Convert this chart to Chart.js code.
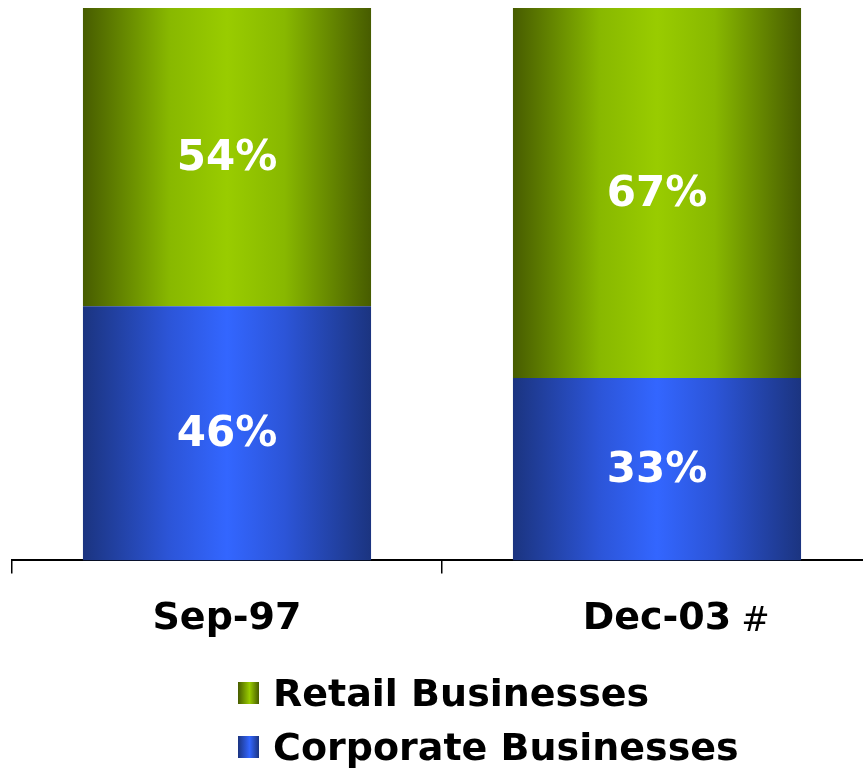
<!DOCTYPE html>
<html>
<head>
<meta charset="utf-8">
<script src="https://cdn.jsdelivr.net/npm/chart.js@4.4.0/dist/chart.umd.min.js"></script>
<style>
  html, body { margin: 0; padding: 0; background: #fff; overflow: hidden; }
  #wrap { position: relative; width: 863px; height: 768px; overflow: hidden; }
  #box { position: absolute; left: 0; top: 0; width: 880px; height: 681px; }
  #legend { position: absolute; left: 238px; top: 666px; font-family: "DejaVu Sans", Verdana, sans-serif; font-weight: bold; font-size: 38px; color: #000; }
  .row { display: flex; align-items: center; height: 54px; }
  .sw { width: 21px; height: 22px; margin-right: 14px; }
</style>
</head>
<body>
<div id="wrap">
  <div id="box"><canvas id="chart"></canvas></div>
  <div id="legend"></div>
</div>
<script>
// values
const periods = ['Sep-97', 'Dec-03'];
const periodNotes = ['', '#'];
const corporateShare = [46, 33];
const retailShare = [54, 67];

const greenStops = ['#475c00', '#88b800', '#99cc00'];
const blueStops = ['#1b3480', '#2c55d8', '#3366ff'];

const barPct = 0.67;

// horizontal gradient across each bar: dark edges, bright middle
function barGradient(stops) {
    return function(ctx) {
        const chart = ctx.chart;
        const xs = chart.scales.x;
        if (!chart.chartArea || !xs || ctx.dataIndex === undefined) return stops[2];
        const cx = xs.getPixelForValue(ctx.dataIndex);
        const w = (xs.width / periods.length) * barPct;
        const g = chart.ctx.createLinearGradient(cx - w / 2, 0, cx + w / 2, 0);
        g.addColorStop(0, stops[0]);
        g.addColorStop(0.3, stops[1]);
        g.addColorStop(0.5, stops[2]);
        g.addColorStop(0.7, stops[1]);
        g.addColorStop(1, stops[0]);
        return g;
    };
}

// percent labels in the middle of each segment, plus the "#" note
const labelPlugin = {
    id: 'segLabels',
    afterDatasetsDraw(chart) {
        const c = chart.ctx;
        c.save();
        c.fillStyle = '#fff';
        c.font = 'bold 42px "DejaVu Sans"';
        c.textAlign = 'center';
        c.textBaseline = 'middle';
        chart.data.datasets.forEach((ds, i) => {
            chart.getDatasetMeta(i).data.forEach((bar, j) => {
                c.fillText(ds.data[j] + '%', bar.x, (bar.y + bar.base) / 2 + 2);
            });
        });
        // small note mark after a tick label
        const xs = chart.scales.x;
        c.fillStyle = '#000';
        c.textAlign = 'left';
        c.textBaseline = 'alphabetic';
        periodNotes.forEach((note, j) => {
            if (!note) return;
            c.font = 'bold 38px "DejaVu Sans"';
            const half = c.measureText(periods[j]).width / 2;
            c.font = '34px "DejaVu Sans"';
            c.fillText(note, xs.getPixelForValue(j) + half + 10, 631);
        });
        c.restore();
    }
};

const chart = new Chart(document.getElementById('chart'), {
    type: 'bar',
    data: {
        labels: periods,
        datasets: [
            { label: 'Corporate Businesses', data: corporateShare, backgroundColor: barGradient(blueStops), swatch: blueStops },
            { label: 'Retail Businesses', data: retailShare, backgroundColor: barGradient(greenStops), swatch: greenStops }
        ]
    },
    options: {
        responsive: true,
        maintainAspectRatio: false,
        animation: false,
        layout: { padding: { left: 12, right: 8, top: 8, bottom: 16 } },
        datasets: { bar: { barPercentage: barPct, categoryPercentage: 1 } },
        plugins: { legend: { display: false }, tooltip: { enabled: false } },
        scales: {
            x: {
                stacked: true,
                border: { display: true, color: '#000', width: 2 },
                grid: { drawOnChartArea: false, color: '#000', tickColor: '#000', tickLength: 13, lineWidth: 1.5 },
                ticks: { color: '#000', padding: 23, font: { family: 'DejaVu Sans', size: 38, weight: 'bold' } }
            },
            y: { stacked: true, display: false, min: 0, max: 100 }
        }
    },
    plugins: [labelPlugin]
});

// legend below, top of the stack first
const legend = document.getElementById('legend');
chart.data.datasets.slice().reverse().forEach(ds => {
    const row = document.createElement('div');
    row.className = 'row';
    const s = ds.swatch;
    row.innerHTML = `<span class="sw" style="background:linear-gradient(to right, ${s[0]}, ${s[2]} 55%, ${s[0]})"></span>${ds.label}`;
    legend.appendChild(row);
});
</script>
</body>
</html>
